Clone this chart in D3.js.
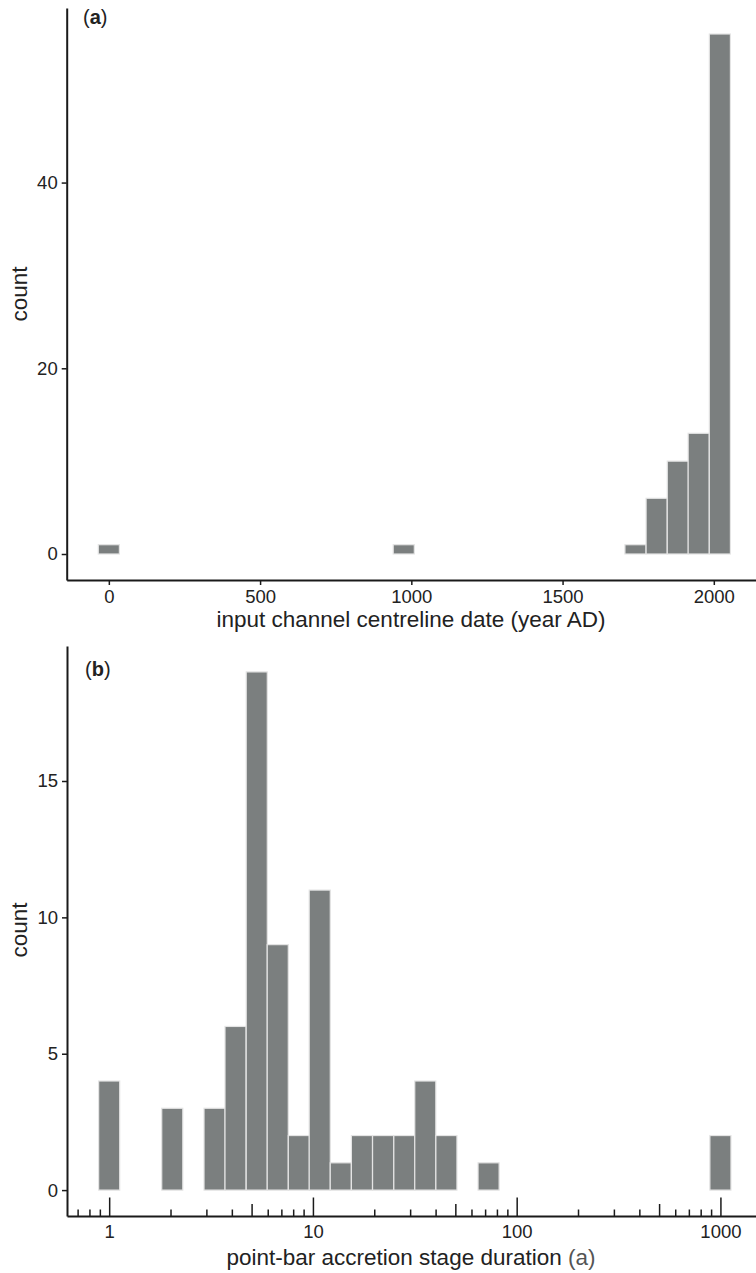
<!DOCTYPE html>
<html>
<head>
<meta charset="utf-8">
<script src="https://cdn.jsdelivr.net/npm/d3@7"></script>
<style>
  body { margin: 0; background: #fff; }
  svg { display: block; font-family: "Liberation Sans", Arial, sans-serif; }
</style>
</head>
<body>
<svg id="chart" width="756" height="1273"></svg>
<script>
// panel (a): input channel centreline date, 30 bins
const dateBins = [0, 975, 1741, 1811, 1881, 1950, 2020];
const dateCounts = [1, 1, 1, 6, 10, 13, 56];
const dateBinWidth = 69.7;
const dateTicks = [0, 500, 1000, 1500, 2000];
const countTicksA = [0, 20, 40];

// panel (b): point-bar accretion stage duration (log bins)
const durBins = [1, 2.04, 3.29, 4.17, 5.3, 6.72, 8.53, 10.8, 13.7, 17.4, 22.1, 28.1, 35.6, 45.2, 72.8, 1000];
const durCounts = [4, 3, 3, 6, 19, 9, 2, 11, 1, 2, 2, 2, 4, 2, 1, 2];
const durLogBinWidth = 0.1034;
const durMajor = [1, 10, 100, 1000];
const durMid = [5, 50, 500];
const durMinor = [0.7, 0.8, 0.9, 2, 3, 4, 6, 7, 8, 9, 20, 30, 40, 60, 70, 80, 90, 200, 300, 400, 600, 700, 800, 900];
const countTicksB = [0, 5, 10, 15];

const barFill = "#7b7f7f", barEdge = "#e4e4e4", ink = "#1a1a1a";
const svg = d3.select("#chart");

function styleAxis(g) {
	g.select(".domain").attr("stroke", ink).attr("stroke-width", 2);
	g.selectAll(".tick line").attr("stroke", ink).attr("stroke-width", 1.5);
	g.selectAll(".tick text").attr("fill", "#222").attr("font-size", 18.5);
}

function panelLabel(g, x, y, letter) {
	g.append("text")
		.attr("x", x).attr("y", y).attr("font-size", 20).attr("fill", "#222")
		.call(t => {
			t.append("tspan").text("(");
			t.append("tspan").attr("font-weight", "bold").text(letter);
			t.append("tspan").text(")");
		});
}

// ---------- panel (a) ----------
let xA = d3.scaleLinear().domain([-139.3, 2159.3]).range([66.7, 762]),
	yA = d3.scaleLinear().domain([-2.8, 58.8]).range([580, 8]);

let gA = svg.append("g");

gA.selectAll("rect")
	.data(dateBins)
	.join("rect")
	.attr("x", d => xA(d - dateBinWidth / 2))
	.attr("width", d => xA(d + dateBinWidth / 2) - xA(d - dateBinWidth / 2))
	.attr("y", (d, i) => yA(dateCounts[i]))
	.attr("height", (d, i) => yA(0) - yA(dateCounts[i]))
	.attr("fill", barFill)
	.attr("stroke", barEdge)
	.attr("stroke-width", 1.2);

gA.append("g")
	.attr("transform", "translate(0,580)")
	.call(d3.axisBottom(xA).tickValues(dateTicks).tickSize(5).tickSizeOuter(0).tickPadding(5).tickFormat(d3.format("d")))
	.call(styleAxis);

gA.append("g")
	.attr("transform", "translate(66.7,0)")
	.call(d3.axisLeft(yA).tickValues(countTicksA).tickSize(5).tickSizeOuter(0).tickPadding(4))
	.call(styleAxis);

gA.append("text")
	.attr("x", 411).attr("y", 627)
	.attr("text-anchor", "middle").attr("font-size", 22.5).attr("fill", "#222")
	.text("input channel centreline date (year AD)");

gA.append("text")
	.attr("transform", "translate(27,294) rotate(-90)")
	.attr("text-anchor", "middle").attr("font-size", 22.5).attr("fill", "#222")
	.text("count");

panelLabel(gA, 83, 24, "a");

// ---------- panel (b) ----------
let xB = d3.scaleLog().domain([Math.pow(10, -0.207), Math.pow(10, 3.207)]).range([67, 762.6]),
	yB = d3.scaleLinear().domain([-0.95, 19.95]).range([1216, 646]);

let gB = svg.append("g"),
	half = Math.pow(10, durLogBinWidth / 2);

gB.selectAll("rect")
	.data(durBins)
	.join("rect")
	.attr("x", d => xB(d / half))
	.attr("width", d => xB(d * half) - xB(d / half))
	.attr("y", (d, i) => yB(durCounts[i]))
	.attr("height", (d, i) => yB(0) - yB(durCounts[i]))
	.attr("fill", barFill)
	.attr("stroke", barEdge)
	.attr("stroke-width", 1.2);

// log ticks drawn inside the panel, pointing up
[[durMinor, 6.5], [durMid, 12], [durMajor, 18.5]].forEach(([vals, len]) => {
	gB.append("g")
		.attr("transform", "translate(0,1216)")
		.call(d3.axisTop(xB).tickValues(vals).tickSize(len).tickFormat(""))
		.call(g => g.select(".domain").remove())
		.selectAll(".tick line").attr("stroke", ink).attr("stroke-width", 1.5);
});

gB.append("g")
	.attr("transform", "translate(0,1216)")
	.call(d3.axisBottom(xB).tickValues(durMajor).tickSize(0).tickSizeOuter(0).tickPadding(9).tickFormat(d3.format("d")))
	.call(styleAxis);

gB.append("g")
	.attr("transform", "translate(67,0)")
	.call(d3.axisLeft(yB).tickValues(countTicksB).tickSize(5).tickSizeOuter(0).tickPadding(4))
	.call(styleAxis);

gB.append("text")
	.attr("x", 411).attr("y", 1265)
	.attr("text-anchor", "middle").attr("font-size", 22.5).attr("fill", "#222")
	.call(t => {
		t.append("tspan").text("point-bar accretion stage duration ");
		t.append("tspan").attr("fill", "#555").text("(a)");
	});

gB.append("text")
	.attr("transform", "translate(27,930) rotate(-90)")
	.attr("text-anchor", "middle").attr("font-size", 22.5).attr("fill", "#222")
	.text("count");

panelLabel(gB, 85, 676, "b");
</script>
</body>
</html>
